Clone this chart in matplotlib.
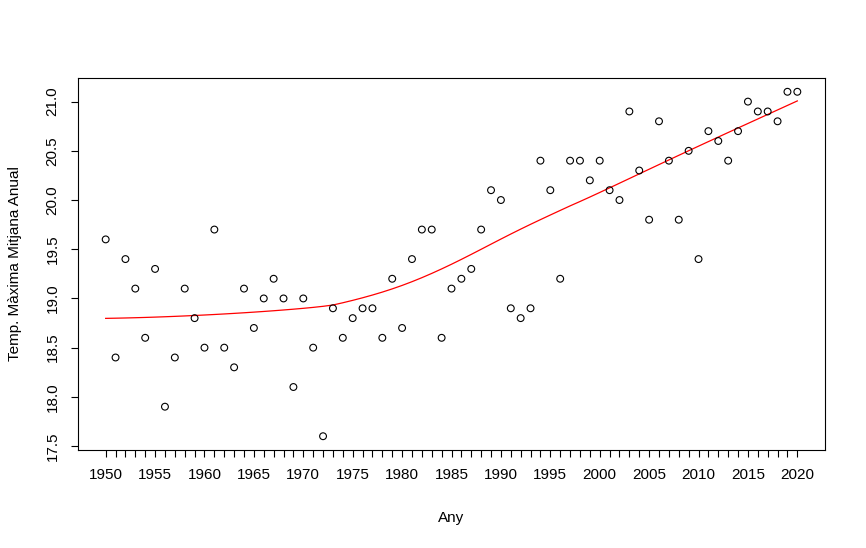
import numpy as np
import matplotlib
matplotlib.use("Agg")
import matplotlib.pyplot as plt

years = list(range(1950, 2021))
temps = [19.6, 18.4, 19.4, 19.1, 18.6, 19.3, 17.9, 18.4, 19.1, 18.8,
         18.5, 19.7, 18.5, 18.3, 19.1, 18.7, 19.0, 19.2, 19.0, 18.1,
         19.0, 18.5, 17.6, 18.9, 18.6, 18.8, 18.9, 18.9, 18.6, 19.2,
         18.7, 19.4, 19.7, 19.7, 18.6, 19.1, 19.2, 19.3, 19.7, 20.1,
         20.0, 18.9, 18.8, 18.9, 20.4, 20.1, 19.2, 20.4, 20.4, 20.2,
         20.4, 20.1, 20.0, 20.9, 20.3, 19.8, 20.8, 20.4, 19.8, 20.5,
         19.4, 20.7, 20.6, 20.4, 20.7, 21.0, 20.9, 20.9, 20.8, 21.1,
         21.1]
ytick_vals = [17.5, 18.0, 18.5, 19.0, 19.5, 20.0, 20.5, 21.0]
xtick_labels = list(range(1950, 2021, 5))


def lowess(x, y, f=2/3, iters=3):
    x = np.asarray(x, float)
    y = np.asarray(y, float)
    n = len(x)
    ns = max(min(int(f * n + 1e-7), n), 2)
    rw = np.ones(n)
    ys = np.zeros(n)
    for it in range(iters + 1):
        nleft, nright = 0, ns - 1
        for i in range(n):
            while nright < n - 1 and x[i] - x[nleft] > x[nright + 1] - x[i]:
                nleft += 1
                nright += 1
            h = max(x[i] - x[nleft], x[nright] - x[i])
            h9, h1 = 0.999 * h, 0.001 * h
            r = np.abs(x - x[i])
            w = np.where(r <= h9, np.where(r > h1, (1 - (r / h) ** 3) ** 3, 1.0), 0.0)
            w = w * rw
            sw = w.sum()
            w = w / sw
            a = (w * x).sum()
            b = (w * (x - a) ** 2).sum()
            if np.sqrt(b) > 0.001 * (x[-1] - x[0]):
                w = w * ((x - a) * (x[i] - a) / b + 1)
            ys[i] = (w * y).sum()
        if it == iters:
            break
        res = y - ys
        cmad = 6 * np.median(np.abs(res))
        c9, c1 = 0.999 * cmad, 0.001 * cmad
        ar = np.abs(res)
        rw = np.where(ar <= c1, 1.0, np.where(ar <= c9, (1 - (ar / cmad) ** 2) ** 2, 0.0))
    return ys


smooth = lowess(years, temps)

W, H = 866, 548
fig = plt.figure(figsize=(W / 100, H / 100), dpi=100)
plt.rcParams['font.family'] = ['Liberation Sans', 'DejaVu Sans']
ax = fig.add_axes([78 / W, (H - 450) / H, (825 - 78) / W, (450 - 78) / H])

ax.scatter(years, temps, s=24, facecolors='none', edgecolors='black', linewidths=0.8, zorder=3)
ax.plot(years, smooth, color='red', linewidth=0.9, zorder=2)

xr = years[-1] - years[0]
ax.set_xlim(years[0] - 0.04 * xr, years[-1] + 0.04 * xr)
yr = max(temps) - min(temps)
ax.set_ylim(min(temps) - 0.04 * yr, max(temps) + 0.04 * yr)

ax.set_xticks(years, minor=True)
ax.set_xticks(xtick_labels)
ax.set_xticklabels([str(v) for v in xtick_labels])
ax.set_yticks(ytick_vals)
ax.set_yticklabels([f"{v:.1f}" for v in ytick_vals], rotation=90, va='center')

ax.tick_params(axis='both', which='both', length=5.2, width=0.8, color='black',
               labelsize=11, pad=8)
ax.tick_params(axis='x', which='minor', labelbottom=False)
for sp in ax.spines.values():
    sp.set_linewidth(0.8)

fig.text(15 / W, 1 - 264 / H, "Temp. Màxima Mitjana Anual", rotation=90,
         ha='center', va='center', fontsize=11)
fig.text(451 / W, 1 - 518 / H, "Any", ha='center', va='center', fontsize=11)

fig.savefig("out.png", dpi=100)
